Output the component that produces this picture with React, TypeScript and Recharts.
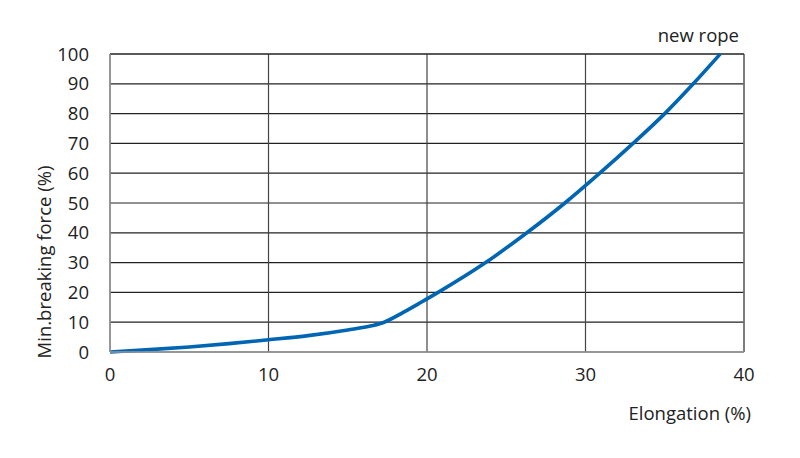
import React from 'react';
import { LineChart, Line, XAxis, YAxis, CartesianGrid, ReferenceLine } from 'recharts';

const elongation = [0, 2.5, 5, 7.5, 10, 12.5, 15, 16.5, 17.3, 18.5, 19.6, 20.7, 23.7, 26.3, 28.7, 30.9, 33.0, 35.0, 36.8, 38.5];
const force = [0, 0.8, 1.7, 2.8, 4.1, 5.5, 7.4, 8.8, 10, 13.3, 16.6, 20, 30, 40, 50, 60, 70, 80, 90, 100];
const xTicks = [0, 10, 20, 30, 40];
const yTicks = [0, 10, 20, 30, 40, 50, 60, 70, 80, 90, 100];

const data = elongation.map((e, i) => ({ x: e, y: force[i] }));

const FONT = '"Open Sans", "Liberation Sans", sans-serif';
const FS = 18.5;

export default function App() {
  return (
    <div style={{ position: 'absolute', left: 0, top: 0, width: 800, height: 458, background: '#fff', fontFamily: FONT }}>
      <LineChart width={800} height={458} data={data} margin={{ top: 54, right: 56, bottom: 76, left: 50 }}>
        <CartesianGrid vertical={false} horizontal={true} stroke="#222" strokeWidth={1.2} />
        <CartesianGrid vertical={true} horizontal={false} stroke="#444" strokeWidth={1.2} />
        <XAxis
          dataKey="x"
          type="number"
          domain={[0, 40]}
          ticks={xTicks}
          tickLine={false}
          tickSize={0}
          tickMargin={16}
          axisLine={{ stroke: '#999', strokeWidth: 1.5 }}
          height={30}
          tick={{ fill: '#222', fontSize: FS, fontFamily: FONT }}
          label={(props: any) => {
            const vb = props.viewBox;
            return (
              <text x={vb.x + vb.width + 7} y={vb.y + 68} textAnchor="end" fill="#222" fontSize={FS} fontFamily={FONT}>
                Elongation (%)
              </text>
            );
          }}
        />
        <YAxis
          type="number"
          domain={[0, 100]}
          ticks={yTicks}
          tickLine={false}
          tickSize={0}
          tickMargin={21}
          axisLine={{ stroke: '#999', strokeWidth: 1.5 }}
          width={60}
          interval={0}
          tick={{ fill: '#222', fontSize: FS, fontFamily: FONT }}
          label={(props: any) => {
            const vb = props.viewBox;
            const cx = vb.x - 7;
            const cy = 262;
            return (
              <text x={cx} y={cy} textAnchor="middle" dominantBaseline="central" transform={`rotate(-90, ${cx}, ${cy})`} fill="#222" fontSize={FS} fontFamily={FONT}>
                Min.breaking force (%)
              </text>
            );
          }}
        />
        <ReferenceLine x={40} stroke="#777" strokeWidth={1.5} />
        <ReferenceLine y={100} stroke="#222" strokeWidth={1.2} />
        <Line
          type="monotone"
          dataKey="y"
          stroke="#0066b3"
          strokeWidth={3.6}
          dot={false}
          isAnimationActive={false}
        />
        <ReferenceLine
          y={100}
          stroke="none"
          label={(props: any) => {
            const vb = props.viewBox;
            return (
              <text x={vb.x + vb.width - 5} y={vb.y - 12} textAnchor="end" fill="#222" fontSize={FS} fontFamily={FONT}>
                new rope
              </text>
            );
          }}
        />
      </LineChart>
    </div>
  );
}
